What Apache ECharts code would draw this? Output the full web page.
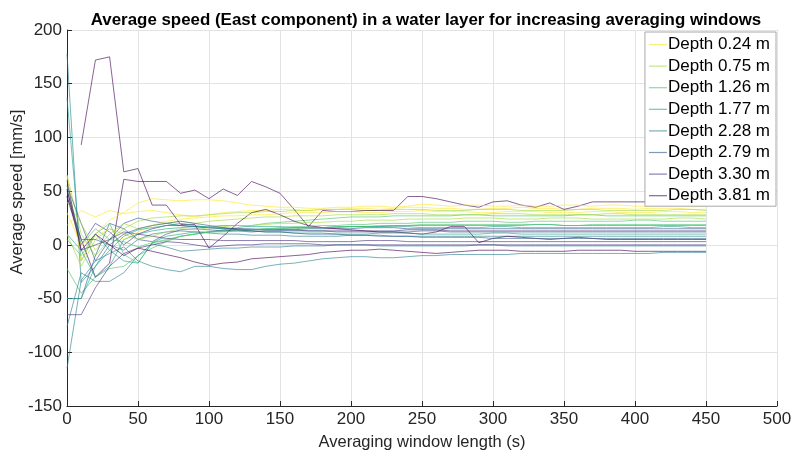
<!DOCTYPE html>
<html>
<head>
<meta charset="utf-8">
<script src="https://cdn.jsdelivr.net/npm/echarts@6/dist/echarts.min.js"></script>
<style>
  html, body { margin: 0; padding: 0; background: #fff; }
  #chart { width: 791px; height: 454px; }
</style>
</head>
<body>
<div id="chart"></div>
<script>
// Averaging window lengths (s)
const windows = [0,10,20,30,40,50,60,70,80,90,100,110,120,130,140,150,160,170,180,190,200,210,220,230,240,250,260,270,280,290,300,310,320,330,340,350,360,370,380,390,400,410,420,430,440,450];

// Layer depths (m)
const depths = ["0.24","0.75","1.26","1.77","2.28","2.79","3.30","3.81","4.32","4.83","5.34","5.85","6.36","6.87","7.38","7.89","8.40","8.91","9.42","9.93","10.44","10.95","11.46","11.97"];

// Line colours (viridis, reversed), cycled over the layers
const palette = ["#fde725","#a0da39","#4ac16d","#1fa187","#277f8e","#365c8d","#46327e","#440154"];

// Average East speed (mm/s) per layer
const d0_24 = [18,32,26,32,29,31,32,30,28,26,28,30,31,32,32,33,33,32,33,33,34,34,33,34,35,35,34,34,33,33,34,34,35,34,34,33,33,34,34,34,33,34,34,34,33,33];
const d0_75 = [65,10,-10,5,15,22,25,26,27,27,28,29,30,30,31,31,32,32,33,33,33,32,32,33,33,33,32,32,32,33,33,33,32,32,32,32,33,33,32,32,32,32,32,33,33,32];
const d1_26 = [-22,-45,-30,-22,-20,-10,-3,3,8,10,12,14,16,18,20,21,22,23,24,25,26,26,26,27,27,27,27,27,28,28,27,27,27,27,27,27,28,28,27,27,27,27,27,27,27,27];
const d1_77 = [137,-15,10,-5,-15,-17,2,8,10,12,12,13,14,14,15,15,16,16,16,17,17,17,17,18,18,18,18,18,18,18,18,18,18,19,19,18,18,18,18,18,18,18,18,18,18,18];
const d2_28 = [178,-35,-20,0,-5,5,10,12,13,12,11,10,10,9,9,9,8,8,8,8,9,9,9,8,8,8,8,8,8,8,8,8,8,8,8,8,8,8,8,8,8,8,8,8,8,8];
const d2_79 = [55,20,-15,5,20,25,22,20,18,17,16,16,15,15,14,14,14,15,15,15,15,16,16,16,15,15,15,15,15,15,15,15,15,15,15,15,15,15,15,15,15,15,15,15,15,15];
const d3_30 = [45,0,20,12,0,10,15,18,18,17,16,15,15,14,14,14,14,13,13,13,13,13,13,13,14,14,14,13,13,13,13,13,13,13,13,13,13,13,13,13,13,13,13,13,13,13];
const d3_81 = [45,5,-30,-17,61,59,59,59,48,51,43,52,46,59,54,48,33,17,32,31,31,32,32,32,45,45,43,40,37,35,40,41,37,35,39,33,36,40,40,40,40,40,41,41,40,40];
const d4_32 = [65,-15,10,23,30,39,43,42,41,42,42,41,39,37,36,35,35,34,34,35,35,36,36,35,36,38,37,36,37,37,36,36,37,36,36,37,37,36,37,37,36,36,37,37,36,36];
const d4_83 = [40,20,-5,10,20,15,18,20,22,20,22,23,24,25,26,26,27,27,27,28,28,28,28,29,29,29,28,28,28,28,29,29,29,28,28,28,28,28,29,29,28,28,28,28,28,28];
const d5_34 = [55,0,15,5,3,-2,2,5,8,10,12,13,14,14,15,16,17,17,18,18,19,19,20,20,20,21,21,21,22,22,22,21,21,22,22,22,22,22,22,22,23,23,22,22,22,22];
const d5_85 = [10,-5,-30,-20,5,10,13,15,16,17,17,18,18,17,17,17,16,16,16,16,17,17,17,17,17,16,16,16,16,16,17,17,16,16,16,16,16,16,16,16,16,16,17,17,16,16];
const d6_36 = [-76,-26,-34,-34,-26,-10,1,-2,-6,-5,-4,-3,-3,-2,-2,-2,-1,-1,-1,0,0,0,-1,-1,-1,-1,-1,-1,-1,0,0,-1,-1,-1,-1,-1,-1,-1,-1,-1,-1,-1,-1,-1,-1,-1];
const d6_87 = [-50,-50,-10,20,15,5,3,10,14,15,14,13,13,12,13,13,13,13,13,12,12,12,12,12,12,13,13,12,12,12,12,12,12,12,12,12,12,12,12,12,12,12,12,12,12,12];
const d7_38 = [60,-5,0,5,12,10,8,6,5,5,5,4,4,4,4,4,4,3,3,3,3,4,4,4,3,3,3,3,3,3,3,3,3,3,3,3,3,3,3,3,3,3,3,3,3,3];
const d7_89 = [null,93,172,175,68,71,37,37,19,19,-3,8,20,30,33,28,22,18,16,15,14,13,12,12,11,10,12,17,17,2,6,8,7,6,5,6,7,6,5,5,5,5,5,5,5,5];
const d8_40 = [30,0,8,15,5,12,18,22,24,25,26,27,27,28,28,29,30,30,30,31,31,30,30,31,31,32,31,31,31,30,30,31,31,31,30,30,30,31,31,30,30,30,31,31,30,30];
const d8_91 = [10,-20,5,15,10,5,8,12,15,14,16,17,18,18,19,20,20,21,21,22,22,23,23,23,24,24,24,24,25,25,25,24,24,24,25,25,25,24,24,24,24,24,24,25,25,24];
const d9_42 = [5,-10,10,20,-9,-17,2,4,8,10,12,12,13,14,14,15,15,16,16,17,17,17,18,18,18,19,19,19,19,19,19,19,19,19,19,18,18,19,19,19,19,19,19,19,19,19];
const d9_93 = [-50,-50,-20,-5,8,14,16,18,20,18,16,15,14,13,12,12,11,11,11,10,10,10,11,11,11,10,10,10,10,10,11,11,10,10,10,10,10,10,10,10,10,10,10,10,10,10];
const d10_44 = [-115,-33,-15,-8,-2,-15,-20,-23,-25,-20,-20,-22,-23,-23,-20,-18,-17,-15,-13,-12,-11,-11,-12,-12,-11,-10,-10,-9,-9,-9,-9,-9,-8,-8,-8,-8,-8,-8,-8,-8,-8,-8,-7,-7,-7,-7];
const d10_95 = [50,5,5,0,10,15,18,20,22,20,18,16,14,13,12,12,11,10,10,10,9,9,8,8,8,7,7,7,7,7,6,6,6,6,6,6,6,6,6,6,6,6,6,6,6,6];
const d11_46 = [-65,-65,-40,-20,-8,-3,0,3,2,0,-2,-1,0,0,1,1,1,1,0,0,0,0,0,0,0,0,0,0,0,0,0,0,0,0,0,0,0,0,0,0,0,0,0,0,0,0];
const d11_97 = [52,-5,10,0,-10,-3,-6,-9,-12,-16,-19,-17,-16,-13,-12,-11,-10,-9,-7,-6,-5,-5,-4,-5,-6,-7,-8,-7,-6,-5,-5,-5,-6,-6,-6,-6,-5,-5,-5,-5,-6,-6,-6,-6,-6,-6];

const layers = [d0_24,d0_75,d1_26,d1_77,d2_28,d2_79,d3_30,d3_81,d4_32,d4_83,d5_34,d5_85,d6_36,d6_87,d7_38,d7_89,d8_40,d8_91,d9_42,d9_93,d10_44,d10_95,d11_46,d11_97];

// Only the first eight layers appear in the legend
const legendCount = 8;

const FONT = '"Liberation Sans", Arial, Helvetica, sans-serif';
const INK = '#262626';
const LINE_OPACITY = 0.62;

const names = depths.map(d => 'Depth ' + d + ' m');

const series = layers.map((vals, i) => ({
  name: names[i],
  type: 'line',
  data: vals.map((v, k) => [windows[k], v]),
  symbol: 'none',
  connectNulls: false,
  silent: true,
  animation: false,
  color: palette[i % palette.length],
  lineStyle: { width: 1, opacity: LINE_OPACITY },
  z: 2
}));

const chart = echarts.init(document.getElementById('chart'), null, { renderer: 'canvas' });
chart.setOption({
  animation: false,
  backgroundColor: '#ffffff',
  title: {
    text: 'Average speed (East component) in a water layer for increasing averaging windows',
    left: 421,
    textAlign: 'center',
    top: 7,
    textStyle: { fontFamily: FONT, fontWeight: 'bold', fontSize: 16.9, color: '#000' }
  },
  grid: { left: 67, right: 14, top: 30, bottom: 48, containLabel: false, outerBoundsMode: 'none' },
  legend: {
    data: names.slice(0, legendCount),
    orient: 'vertical',
    right: 15,
    top: 32,
    icon: 'rect',
    itemWidth: 18,
    itemHeight: 1.2,
    itemGap: 4.6,
    padding: [4, 6, 2, 4],
    backgroundColor: '#ffffff',
    borderColor: '#a8a8a8',
    borderWidth: 1,
    itemStyle: { opacity: LINE_OPACITY },
    lineStyle: { opacity: 0 },
    textStyle: { fontFamily: FONT, fontSize: 17, lineHeight: 17, color: '#000', padding: [0, 0, 0, -4] },
    selectedMode: false
  },
  xAxis: {
    type: 'value',
    min: 0,
    max: 500,
    interval: 50,
    name: 'Averaging window length (s)',
    nameLocation: 'middle',
    nameGap: 28,
    nameMoveOverlap: false,
    nameTextStyle: { fontFamily: FONT, fontSize: 16.5, color: INK },
    axisLine: { onZero: false, lineStyle: { color: INK, width: 1 } },
    axisTick: { show: true, inside: true, length: 5, lineStyle: { color: INK } },
    axisLabel: { fontFamily: FONT, fontSize: 17, color: INK, margin: 5 },
    splitLine: { show: true, lineStyle: { color: '#e3e3e3', width: 1 } }
  },
  yAxis: {
    type: 'value',
    min: -150,
    max: 200,
    interval: 50,
    name: 'Average speed [mm/s]',
    nameLocation: 'middle',
    nameGap: 41,
    nameMoveOverlap: false,
    nameRotate: 90,
    // left padding lifts the rotated label slightly above the axis centre
    nameTextStyle: { fontFamily: FONT, fontSize: 16.5, color: INK, padding: [0, 0, 0, 52] },
    axisLine: { show: true, onZero: false, lineStyle: { color: INK, width: 1 } },
    axisTick: { show: true, inside: true, length: 5, lineStyle: { color: INK } },
    axisLabel: { fontFamily: FONT, fontSize: 17, color: INK, margin: 5 },
    splitLine: { show: true, lineStyle: { color: '#e3e3e3', width: 1 } }
  },
  series: series
});
</script>
</body>
</html>
